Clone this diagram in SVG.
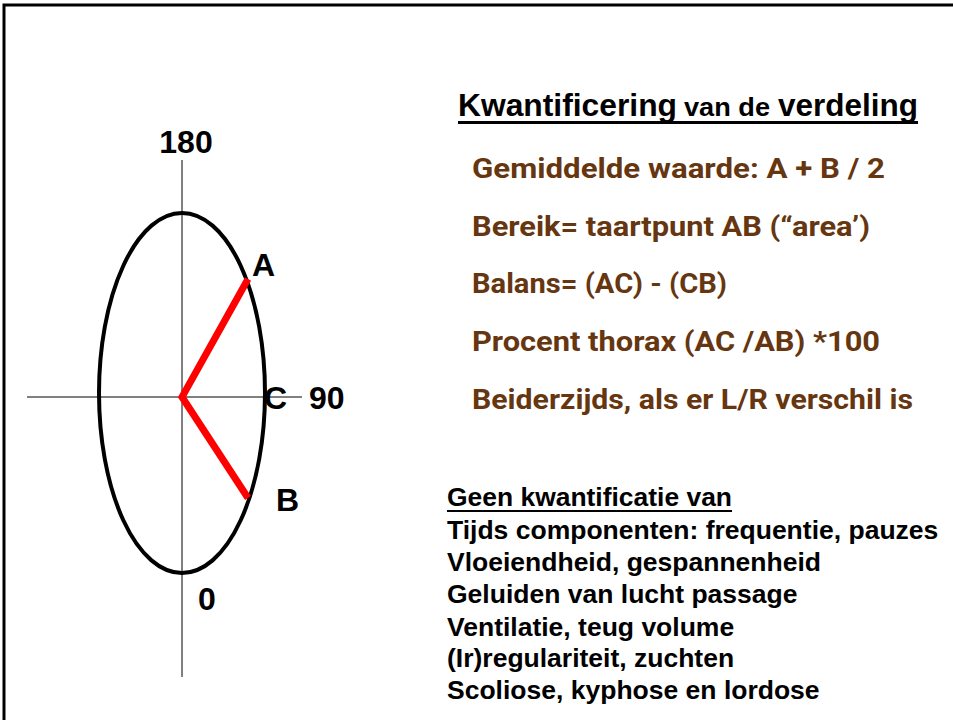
<svg xmlns="http://www.w3.org/2000/svg" width="953" height="720" viewBox="0 0 953 720">
<style>
.lbl{font-family:"Liberation Sans",Arial,sans-serif;font-weight:bold;font-size:32px;fill:#000}
.br{font-family:Roboto,"Liberation Sans",sans-serif;font-weight:700;font-size:28.5px;fill:#663610}
.bl{font-family:"Liberation Sans",Arial,sans-serif;font-weight:bold;font-size:26.5px;fill:#000}
.ttl{font-family:"Liberation Sans",Arial,sans-serif;font-weight:bold;fill:#000}
.axis{stroke:#000;stroke-width:1;fill:none}
.red{stroke:#FF0000;stroke-width:7;fill:none;stroke-linecap:butt;stroke-linejoin:miter}
</style>
<rect width="953" height="720" fill="#fff"/>
<path d="M4,720 V5 H953" fill="none" stroke="#000" stroke-width="3"/>
<g id="diagram">
  <g id="axes">
    <line class="axis" x1="182" y1="160" x2="182" y2="677"/>
    <line class="axis" x1="27" y1="397" x2="302" y2="397"/>
  </g>
  <g id="ellipse">
    <ellipse cx="182" cy="393" rx="83" ry="180" fill="none" stroke="#000" stroke-width="4"/>
  </g>
  <g id="connectors">
    <polyline class="red" points="248,279 182,397 248,498"/>
  </g>
  <g id="labels">
    <text class="lbl" x="186" y="153" text-anchor="middle">180</text>
    <text class="lbl" x="252" y="276">A</text>
    <text class="lbl" x="264" y="409">C</text>
    <text class="lbl" x="309" y="409">90</text>
    <text class="lbl" x="276" y="511">B</text>
    <text class="lbl" x="198" y="610">0</text>
  </g>
</g>
<g id="title">
  <text class="ttl" y="116"><tspan x="458" font-size="31" textLength="219" lengthAdjust="spacingAndGlyphs">Kwantificering</tspan><tspan x="684" font-size="26" textLength="86" lengthAdjust="spacingAndGlyphs">van de</tspan><tspan x="778" font-size="31" textLength="140" lengthAdjust="spacingAndGlyphs">verdeling</tspan></text>
  <rect x="458" y="121" width="460" height="3" fill="#000"/>
</g>
<g id="quantification">
  <text class="br" x="472" y="178" textLength="413" lengthAdjust="spacingAndGlyphs">Gemiddelde waarde: A + B / 2</text>
  <text class="br" x="472" y="236" textLength="398" lengthAdjust="spacingAndGlyphs">Bereik= taartpunt AB (“area’)</text>
  <text class="br" x="472" y="293" textLength="255" lengthAdjust="spacingAndGlyphs">Balans= (AC) - (CB)</text>
  <text class="br" x="472" y="351" textLength="408" lengthAdjust="spacingAndGlyphs">Procent thorax (AC /AB) *100</text>
  <text class="br" x="472" y="409" textLength="441" lengthAdjust="spacingAndGlyphs">Beiderzijds, als er L/R verschil is</text>
</g>
<g id="no-quantification">
  <text class="bl" x="447" y="506" textLength="285" lengthAdjust="spacingAndGlyphs">Geen kwantificatie van</text>
  <rect x="447" y="510" width="285" height="2" fill="#000"/>
  <text class="bl" x="447" y="539">Tijds componenten: frequentie, pauzes</text>
  <text class="bl" x="447" y="571">Vloeiendheid, gespannenheid</text>
  <text class="bl" x="447" y="603">Geluiden van lucht passage</text>
  <text class="bl" x="447" y="636">Ventilatie, teug volume</text>
  <text class="bl" x="447" y="667">(Ir)regulariteit, zuchten</text>
  <text class="bl" x="447" y="699">Scoliose, kyphose en lordose</text>
</g>
</svg>
